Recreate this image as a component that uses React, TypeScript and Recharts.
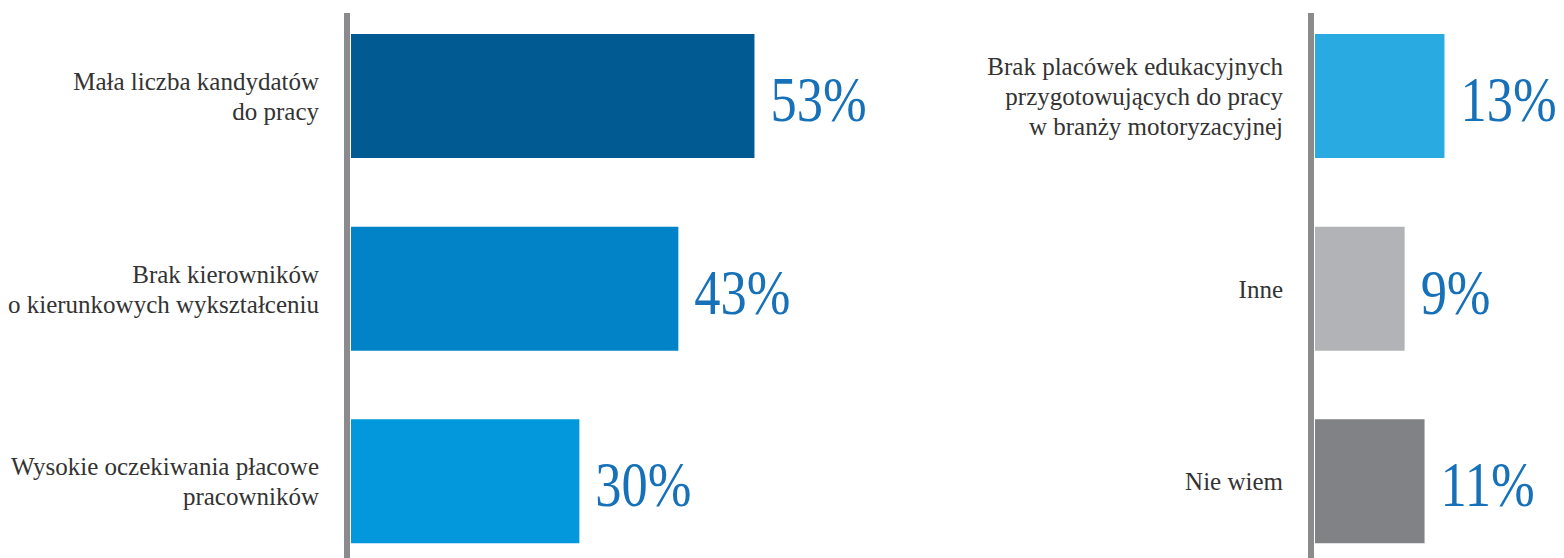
import { BarChart, Bar, XAxis, YAxis, Cell, LabelList } from 'recharts'

// left panel
const leftCategories = [
  'Mała liczba kandydatów\ndo pracy',
  'Brak kierowników\no kierunkowych wykształceniu',
  'Wysokie oczekiwania płacowe\npracowników',
]
const leftValues = [53, 43, 30]

// right panel
const rightCategories = [
  'Brak placówek edukacyjnych\nprzygotowujących do pracy\nw branży motoryzacyjnej',
  'Inne',
  'Nie wiem',
]
const rightValues = [13, 9, 11]

const leftColors = ['#015b92', '#0283c8', '#0397dc']
const rightColors = ['#29abe2', '#b1b3b6', '#808285']

const SERIF = 'Liberation Serif'
const AXIS_GRAY = '#8b8b8d'

const leftData = leftCategories.map((name, i) => ({ name, value: leftValues[i] }))
const rightData = rightCategories.map((name, i) => ({ name, value: rightValues[i] }))

function CategoryTick(props: any) {
  const { x, y, payload } = props
  const lines = String(payload.value).split('\n')
  const lh = 30
  return (
    <text x={x} y={y} textAnchor="end" fill="#333333" fontFamily={SERIF} fontSize={25}>
      {lines.map((line, i) => (
        <tspan key={i} x={x} y={y + (i - (lines.length - 1) / 2) * lh} dy="0.35em">
          {line}
        </tspan>
      ))}
    </text>
  )
}

function ValueLabel(props: any) {
  const { x, y, width, height, value } = props
  const tx = Number(x) + Number(width) + 16
  const ty = Number(y) + Number(height) / 2 + 25
  return (
    <text
      transform={`translate(${tx},${ty}) scale(0.82,1)`}
      fill="#1771b9"
      fontFamily={SERIF}
      fontSize={64}
    >
      {value}%
    </text>
  )
}

interface PanelProps {
  data: { name: string; value: number }[]
  colors: string[]
  width: number
  axisWidth: number
  domain: [number, number]
}

function Panel({ data, colors, width, axisWidth, domain }: PanelProps) {
  return (
    <BarChart
      width={width}
      height={578}
      data={data}
      layout="vertical"
      margin={{ top: 13, right: 0, bottom: 0, left: 0 }}
      barSize={124}
      style={{ fontFamily: SERIF }}
    >
      <XAxis type="number" domain={domain} allowDataOverflow hide />
      <YAxis
        type="category"
        dataKey="name"
        width={axisWidth}
        padding={{ top: -13, bottom: 0 }}
        axisLine={{ stroke: AXIS_GRAY, strokeWidth: 6 }}
        tickLine={false}
        tickSize={0}
        tickMargin={28}
        tick={<CategoryTick />}
        interval={0}
      />
      <Bar dataKey="value" isAnimationActive={false}>
        {data.map((d, i) => (
          <Cell key={d.name} fill={colors[i]} />
        ))}
        <LabelList dataKey="value" content={<ValueLabel />} />
      </Bar>
    </BarChart>
  )
}

export default function App() {
  return (
    <div
      style={{
        position: 'absolute',
        left: 0,
        top: 0,
        width: 1564,
        height: 558,
        overflow: 'hidden',
        background: '#ffffff',
        fontFamily: SERIF,
      }}
    >
      <div style={{ position: 'absolute', left: 0, top: 0 }}>
        <Panel
          data={leftData}
          colors={leftColors}
          width={960}
          axisWidth={347}
          domain={[-0.525, 80]}
        />
      </div>
      <div style={{ position: 'absolute', left: 956, top: 0 }}>
        <Panel
          data={rightData}
          colors={rightColors}
          width={608}
          axisWidth={355}
          domain={[-0.4, 25]}
        />
      </div>
    </div>
  )
}
